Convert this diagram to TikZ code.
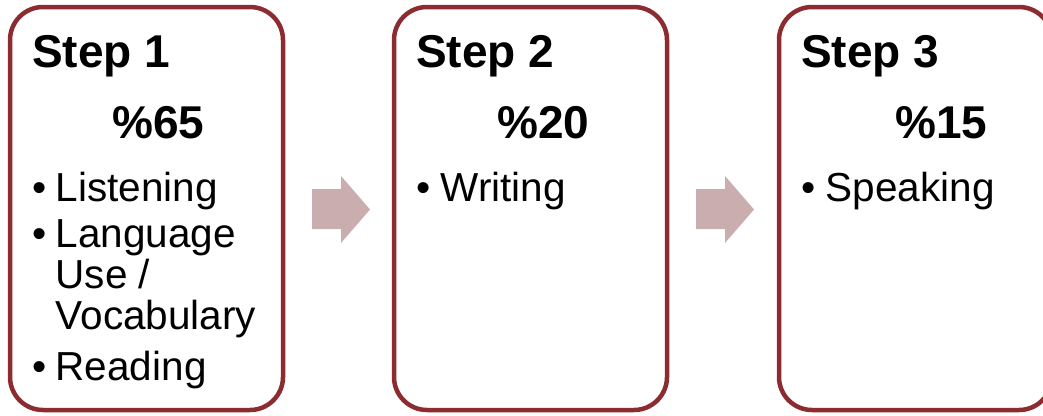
\documentclass[tikz,border=0pt]{standalone}
\usepackage{fontspec}
\setmainfont{Liberation Sans}
\definecolor{boxred}{RGB}{140,44,48}
\definecolor{arrowpink}{RGB}{202,173,174}
\tikzset{
  stepbox/.style={draw=boxred, line width=4.5pt, rounded corners=33pt, fill=white},
  steptitle/.style={anchor=base west, inner sep=0pt, font=\bfseries\fontsize{46}{50}\selectfont},
  bul/.style={anchor=base west, inner sep=0pt, font=\fontsize{40.5}{42}\selectfont},
  item/.style={anchor=base west, inner sep=0pt, font=\fontsize{40.5}{42}\selectfont},
  blockarrow/.style={fill=arrowpink, draw=none}
}
\begin{document}
\begin{tikzpicture}[x=1pt,y=-1pt]
\useasboundingbox (0,0) rectangle (1043,415);
\clip (0,0) rectangle (1043,415);
% boxes
\draw[stepbox] (10,7) rectangle (283,410);
\coordinate (b1) at (10,7);
\draw[stepbox] (394,7) rectangle (667,410);
\coordinate (b2) at (394,7);
\draw[stepbox] (779,7) rectangle (1052,410);
\coordinate (b3) at (779,7);
% arrows
\fill[blockarrow] (312,189) -- (341,189) -- (341,176) -- (370,209.5) -- (341,243) -- (341,229) -- (312,229) -- cycle;
\fill[blockarrow] (696,189) -- (725,189) -- (725,176) -- (754,209.5) -- (725,243) -- (725,229) -- (696,229) -- cycle;
% box 1
\begin{scope}[shift={(b1)}]
\node[steptitle] (t1) at (22,60) {Step 1};
\node[steptitle] (p1) at (102,131) {\%65};
\node[bul] (u1a) at (22.5,194) {•};
\node[item] (i1a) at (45.5,194) {Listening};
\node[bul] (u1b) at (22.5,240) {•};
\node[item] (i1b) at (45.5,240) {Language};
\node[item] (i1c) at (45.5,281) {Use /};
\node[item] (i1d) at (45.5,322) {Vocabulary};
\node[bul] (u1e) at (22.5,373) {•};
\node[item] (i1e) at (45.5,373) {Reading};
\end{scope}
% box 2
\begin{scope}[shift={(b2)}]
\node[steptitle] (t2) at (22,60) {Step 2};
\node[steptitle] (p2) at (103,131) {\%20};
\node[bul] (u2a) at (22.5,194) {•};
\node[item] (i2a) at (46.5,194) {Writing};
\end{scope}
% box 3
\begin{scope}[shift={(b3)}]
\node[steptitle] (t3) at (22,60) {Step 3};
\node[steptitle] (p3) at (116,131) {\%15};
\node[bul] (u3a) at (22.5,194) {•};
\node[item] (i3a) at (46.5,194) {Speaking};
\end{scope}
\end{tikzpicture}
\end{document}
